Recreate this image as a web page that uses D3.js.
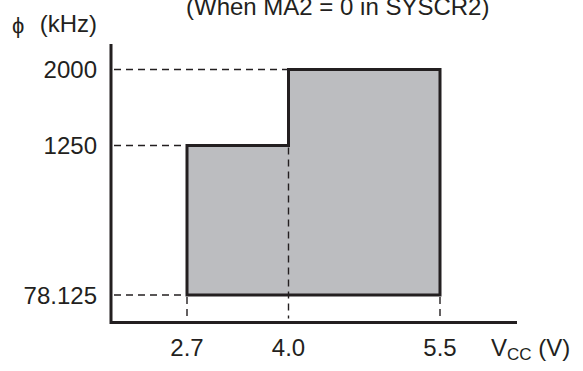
<!DOCTYPE html>
<html>
<head>
<meta charset="utf-8">
<script src="https://cdn.jsdelivr.net/npm/d3@7"></script>
<style>
html,body{margin:0;padding:0;background:#fff;}
svg{display:block;}
text{font-family:"Liberation Sans",Arial,Helvetica,sans-serif;fill:#231f20;}
</style>
</head>
<body>
<svg id="chart" width="583" height="371"></svg>
<script>
// Data
const title = "(When MA2 = 0 in SYSCR2)";
const yTitle = "(kHz)";
const xTicks = [2.7, 4.0, 5.5];
const xTickLabels = ["2.7", "4.0", "5.5"];
const yTicks = [78.125, 1250, 2000];
const yTickLabels = ["78.125", "1250", "2000"];
// Operating region outline (Vcc, phi)
const regionVcc = [2.7, 2.7, 4.0, 4.0, 5.5, 5.5];
const regionFreq = [78.125, 1250, 1250, 2000, 2000, 78.125];

const svg = d3.select("#chart");
const ink = "#231f20";

// piecewise scales (the original axes are not to scale)
const x = d3.scaleLinear().domain(xTicks).range([187, 288.5, 440]);
const y = d3.scaleLinear().domain(yTicks).range([295, 145.5, 69.5]);

const axisX0 = 111, axisY0 = 322.5, axisTop = 44, axisRight = 517;

// region fill + outline
const pts = regionVcc.map((v, i) => [x(v), y(regionFreq[i])]);
svg.append("path")
  .attr("d", d3.line()(pts) + "Z")
  .attr("fill", "#bcbdc0")
  .attr("stroke", ink)
  .attr("stroke-width", 3)
  .attr("stroke-linejoin", "miter");

// dashed guide lines (horizontal from y-axis to region left edge)
const leftEdgeAt = {78.125: 2.7, 1250: 2.7, 2000: 4.0};
svg.append("g").selectAll("line.h").data(yTicks).join("line")
  .attr("x1", axisX0 + 3).attr("x2", d => x(leftEdgeAt[d]))
  .attr("y1", d => y(d)).attr("y2", d => y(d))
  .attr("stroke", ink).attr("stroke-width", 1.4)
  .attr("stroke-dasharray", "7,5");

// vertical dashed
const vTop = {2.7: 78.125, 4.0: 1250, 5.5: 78.125};
svg.append("g").selectAll("line.v").data(xTicks).join("line")
  .attr("x1", d => x(d)).attr("x2", d => x(d))
  .attr("y1", d => y(vTop[d]) + 2).attr("y2", axisY0 - 4)
  .attr("stroke", ink).attr("stroke-width", 1.4)
  .attr("stroke-dasharray", "7,5");

// axes
svg.append("path")
  .attr("d", `M${axisX0},${axisTop}V${axisY0}H${axisRight}`)
  .attr("fill", "none").attr("stroke", ink).attr("stroke-width", 3);

// y tick labels
svg.append("g").selectAll("text").data(yTicks).join("text")
  .attr("x", 97).attr("y", d => y(d) + 8.5)
  .attr("text-anchor", "end")
  .attr("font-size", 24)
  .text((d, i) => yTickLabels[i]);

// x tick labels
svg.append("g").selectAll("text").data(xTicks).join("text")
  .attr("x", d => x(d)).attr("y", 356)
  .attr("text-anchor", "middle")
  .attr("font-size", 24)
  .text((d, i) => xTickLabels[i]);

// x axis title V_CC (V)
const xt = svg.append("text").attr("x", 491).attr("y", 356).attr("font-size", 24);
xt.append("tspan").text("V");
xt.append("tspan").attr("font-size", 17).attr("dy", 4).text("CC");
xt.append("tspan").attr("dy", -4).text(" (V)");

// y axis title
svg.append("text").attr("x", 12).attr("y", 33).attr("font-size", 22)
  .attr("font-family", "DejaVu Sans").text("ϕ");
svg.append("text").attr("x", 97).attr("y", 32).attr("text-anchor", "end")
  .attr("font-size", 24).text(yTitle);

// title (cut at the top edge, as in the reference)
svg.append("text").attr("x", 186).attr("y", 15).attr("font-size", 24).text(title);
</script>
</body>
</html>
